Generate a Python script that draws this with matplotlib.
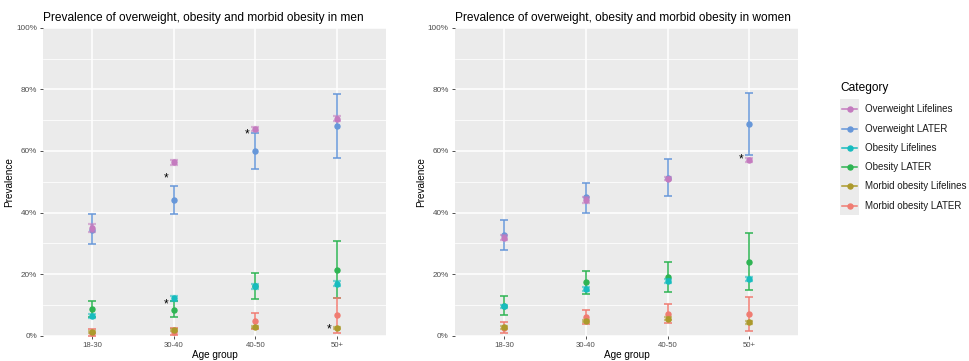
import matplotlib.pyplot as plt
from matplotlib.lines import Line2D
from matplotlib.patches import Rectangle

plt.rcParams['font.family'] = ['Liberation Sans', 'DejaVu Sans']

ages = ['18-30', '30-40', '40-50', '50+']
categories = ['Overweight Lifelines', 'Overweight LATER', 'Obesity Lifelines',
              'Obesity LATER', 'Morbid obesity Lifelines', 'Morbid obesity LATER']
colors = ['#C47BBF', '#6797D9', '#17BCBF', '#2EB453', '#AC9A2C', '#F07C72']

# prevalence (%) per category (rows) and age group (columns)
men_prev = [[35.0, 56.3, 67.1, 70.5],
            [34.4, 44.1, 59.9, 68.2],
            [6.4, 12.1, 16.0, 16.9],
            [8.6, 8.5, 16.0, 21.3],
            [1.2, 1.9, 2.9, 2.5],
            [0.9, 1.3, 4.8, 6.6]]
men_lower = [[33.8, 55.5, 66.4, 69.7],
             [29.7, 39.5, 54.0, 57.6],
             [5.6, 11.4, 15.3, 16.2],
             [6.0, 6.0, 11.8, 12.2],
             [0.8, 1.5, 2.5, 2.1],
             [0.0, 0.2, 2.2, 0.9]]
men_upper = [[36.2, 57.1, 67.8, 71.3],
             [39.4, 48.7, 65.7, 78.6],
             [7.2, 12.8, 16.7, 17.7],
             [11.4, 11.3, 20.5, 30.6],
             [1.6, 2.3, 3.3, 2.9],
             [2.1, 2.6, 7.3, 12.2]]

women_prev = [[31.8, 44.0, 51.0, 57.0],
              [32.7, 44.9, 51.2, 68.8],
              [9.5, 15.1, 17.8, 18.3],
              [9.7, 17.3, 19.1, 24.0],
              [2.7, 4.7, 5.5, 4.3],
              [2.5, 6.0, 7.2, 7.0]]
women_lower = [[31.0, 43.2, 50.4, 56.4],
               [27.7, 39.9, 45.3, 58.7],
               [8.9, 14.4, 17.2, 17.6],
               [6.6, 13.7, 14.3, 14.9],
               [2.3, 4.3, 5.1, 3.9],
               [0.8, 3.9, 4.0, 1.4]]
women_upper = [[32.6, 44.9, 51.6, 57.7],
               [37.5, 49.7, 57.3, 78.7],
               [10.1, 15.8, 18.5, 19.0],
               [12.9, 21.1, 23.8, 33.4],
               [3.1, 5.2, 6.0, 4.7],
               [4.3, 8.4, 10.3, 12.6]]

# significance stars: (age group index, height in %)
men_stars = [(1, 51.9), (1, 11.1), (2, 66.1), (3, 2.9)]
women_stars = [(3, 58.1)]

fig = plt.figure(figsize=(9.69, 3.61), dpi=100)
ax_men = fig.add_axes([0.0447, 0.0701, 0.3537, 0.853])
ax_women = fig.add_axes([0.4696, 0.0701, 0.3543, 0.853])


def draw_panel(ax, prev, lower, upper, stars, title):
    ax.set_facecolor('#EBEBEB')
    x = list(range(len(ages)))
    # LATER first, Lifelines on top
    for i in [1, 3, 5, 0, 2, 4]:
        est = prev[i]
        yerr = [[e - l for e, l in zip(est, lower[i])],
                [u - e for e, u in zip(est, upper[i])]]
        if 'Lifelines' in categories[i]:
            ax.errorbar(x, est, yerr=yerr, fmt='none', ecolor=colors[i],
                        elinewidth=2.8, capsize=3.0, capthick=1.6, alpha=0.55, zorder=4)
            ax.plot(x, est, 'o', color=colors[i], ms=3.6, zorder=5)
        else:
            ax.errorbar(x, est, yerr=yerr, fmt='o', color=colors[i], ms=3.6,
                        elinewidth=1.1, capsize=3.2, capthick=1.1, zorder=3)
    for xi, yv in stars:
        ax.annotate('*', (xi - 0.1, yv), xytext=(0, -2), textcoords='offset points',
                    ha='center', va='center', fontsize=8.5, color='black', zorder=6)
    ax.set_xlim(-0.6, len(ages) - 0.4)
    ax.set_ylim(0, 100)
    ax.set_xticks(x)
    ax.set_xticklabels(ages)
    ax.set_yticks([0, 20, 40, 60, 80, 100])
    ax.set_yticklabels(['0%', '20%', '40%', '60%', '80%', '100%'])
    ax.set_yticks([10, 30, 50, 70, 90], minor=True)
    ax.grid(which='major', color='white', linewidth=1.1)
    ax.grid(which='minor', axis='y', color='white', linewidth=0.55)
    ax.set_axisbelow(True)
    for s in ax.spines.values():
        s.set_visible(False)
    ax.tick_params(which='major', length=2.5, width=0.6, color='#333333',
                   labelcolor='#4D4D4D', pad=2)
    ax.tick_params(axis='y', labelsize=5.9)
    ax.tick_params(axis='x', labelsize=5.6)
    ax.tick_params(which='minor', length=0)
    ax.set_xlabel('Age group', fontsize=7.2, labelpad=0.5)
    ax.set_ylabel('Prevalence', fontsize=7.2, labelpad=1.5)
    ax.set_title(title, loc='left', fontsize=8.6, pad=5)


draw_panel(ax_men, men_prev, men_lower, men_upper, men_stars,
           'Prevalence of overweight, obesity and morbid obesity in men')
draw_panel(ax_women, women_prev, women_lower, women_upper, women_stars,
           'Prevalence of overweight, obesity and morbid obesity in women')

# legend, ggplot style
fig.text(840 / 969, 1 - 88 / 361, 'Category', fontsize=8.6, ha='left', va='center')
fig.patches.append(Rectangle((840 / 969, 1 - 215 / 361), 19 / 969, 116 / 361,
                             transform=fig.transFigure, facecolor='#EBEBEB',
                             edgecolor='none', zorder=0))
for i, name in enumerate(categories):
    yk = 1 - (109.3 + i * 19.3) / 361
    fig.add_artist(Line2D([842 / 969, 857 / 969], [yk, yk], color=colors[i],
                          linewidth=1.1, transform=fig.transFigure))
    fig.add_artist(Line2D([849.5 / 969], [yk], marker='o', ms=3.6, color=colors[i],
                          transform=fig.transFigure))
    fig.text(865 / 969, yk, name, fontsize=7, ha='left', va='center', color='#1A1A1A')

fig.savefig('out.png', dpi=100)
